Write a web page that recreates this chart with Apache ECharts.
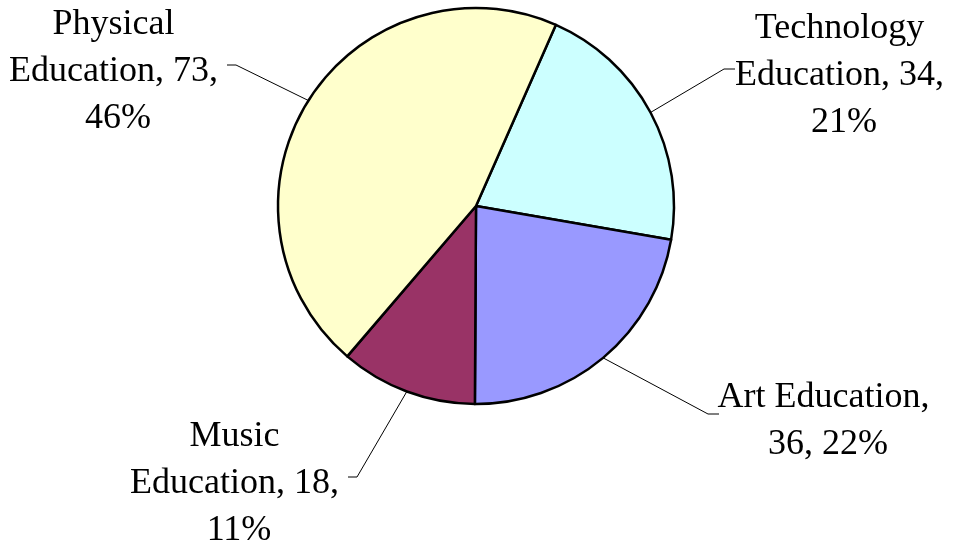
<!DOCTYPE html>
<html>
<head>
<meta charset="utf-8">
<script src="https://cdn.jsdelivr.net/npm/echarts@6/dist/echarts.min.js"></script>
<style>
  html, body { margin: 0; padding: 0; background: #fff; }
  #main { width: 958px; height: 546px; }
</style>
</head>
<body>
<div id="main"></div>
<script>
// slices, clockwise from the Physical / Technology border
var categories = ['Technology Education', 'Art Education', 'Music Education', 'Physical Education'];
var values = [34, 36, 18, 73];
var percents = ['21%', '22%', '11%', '46%'];
var colors = ['#CCFFFF', '#9999FF', '#993366', '#FFFFCC'];

// where each label block sits (centre), in px
var labelPos = [[844, 76], [828, 421], [239, 484], [118, 72]];

var chart = echarts.init(document.getElementById('main'));

var option = {
  animation: false,
  backgroundColor: '#fff',
  series: [{
    type: 'pie',
    center: [476, 206],
    radius: 198,
    startAngle: 66.2,
    clockwise: true,
    data: categories.map(function (name, i) {
      return { name: name, value: values[i], itemStyle: { color: colors[i] } };
    }),
    itemStyle: { borderColor: '#000', borderWidth: 2.5 },
    emphasis: { disabled: true },
    label: {
      show: true,
      position: 'outside',
      fontFamily: 'Liberation Serif',
      fontSize: 36,
      lineHeight: 47,
      color: '#000',
      width: 222,
      overflow: 'break',
      align: 'center',
      formatter: function (p) {
        return p.name + ', ' + p.value + ', ' + percents[p.dataIndex];
      }
    },
    labelLine: {
      show: true,
      lineStyle: { color: '#000', width: 1 }
    },
    labelLayout: function (params) {
      var i = params.dataIndex;
      var pos = labelPos[i];
      var w = params.labelRect.width;
      var anchor = params.labelLinePoints ? params.labelLinePoints[0] : pos;
      var rightSide = pos[0] > 476;
      var edgeX = rightSide ? pos[0] - w / 2 + 2 : pos[0] + w / 2 - 2;
      var bendX = rightSide ? edgeX - 11 : edgeX + 9;
      var lineY = pos[1] - 7;
      return {
        x: pos[0],
        y: pos[1],
        align: 'center',
        verticalAlign: 'middle',
        labelLinePoints: [anchor, [bendX, lineY], [edgeX, lineY]]
      };
    }
  }]
};

chart.setOption(option);
</script>
</body>
</html>
